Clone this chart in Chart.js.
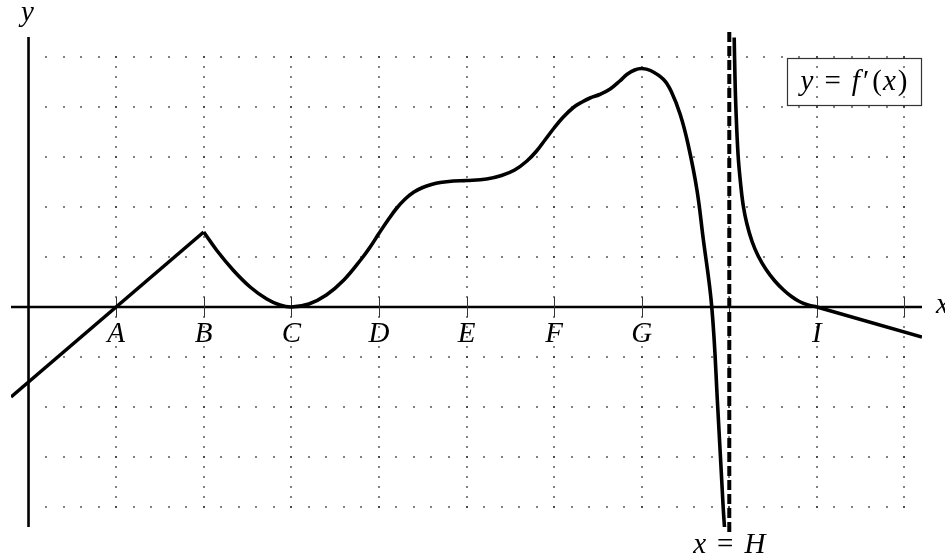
<!DOCTYPE html>
<html>
<head>
<meta charset="utf-8">
<script src="https://cdn.jsdelivr.net/npm/chart.js@4/dist/chart.umd.min.js"></script>
<style>
  html, body { margin: 0; padding: 0; background: #fff; }
  #wrap { width: 945px; height: 556px; position: relative; }
</style>
</head>
<body>
<div id="wrap"><canvas id="derivChart"></canvas></div>
<script>
// x positions of the lettered ticks and their labels
const tickValues = [1, 2, 3, 4, 5, 6, 7, 9];
const tickLabels = ['A', 'B', 'C', 'D', 'E', 'F', 'G', 'I'];
const asymptoteX = 8;

// piece 1: straight line up to B
const leftLineX = [-0.2, 2];
const leftLineY = [-1.8, 1.5];

// piece 2: B -> C -> D -> E -> F -> G -> down towards x = H
const midCurveX = [2, 2.15, 2.34, 2.53, 2.72, 2.87, 3, 3.2, 3.4, 3.6, 3.8, 3.9, 4, 4.1, 4.2, 4.3, 4.4, 4.5, 4.6, 4.7, 4.85,
  5, 5.23, 5.4, 5.55, 5.69, 5.8, 5.9, 6, 6.1, 6.22, 6.32, 6.41, 6.52, 6.64, 6.75, 6.83, 6.92, 7, 7.1, 7.25, 7.34, 7.44, 7.53,
  7.63, 7.7, 7.8, 7.868, 7.93, 7.945];
const midCurveY = [1.5, 1.13, 0.73, 0.4, 0.16, 0.04, 0, 0.06, 0.24, 0.54, 0.96, 1.2, 1.47, 1.73, 1.97, 2.16, 2.3, 2.39, 2.45, 2.49, 2.52,
  2.53, 2.56, 2.63, 2.74, 2.92, 3.12, 3.35, 3.58, 3.79, 3.99, 4.1, 4.18, 4.25, 4.36, 4.52, 4.65, 4.74, 4.77, 4.73, 4.55, 4.3, 3.85, 3.25,
  2.35, 1.4, 0, -2, -4, -4.4];

// piece 3: right of the asymptote down to I
const rightCurveX = [8.056, 8.065, 8.075, 8.1, 8.13, 8.16, 8.2, 8.26, 8.33, 8.42, 8.52, 8.62, 8.71, 8.8, 8.9, 9];
const rightCurveY = [5.39, 4.6, 4.0, 3.05, 2.45, 2.02, 1.67, 1.31, 1.02, 0.75, 0.52, 0.34, 0.21, 0.11, 0.04, 0];

// piece 4: straight line after I
const rightLineX = [9, 10.2];
const rightLineY = [0, -0.6];

// vertical asymptote
const asymX = [asymptoteX, asymptoteX];
const asymY = [-4.5, 5.5];

function pts(xs, ys) {
    return xs.map(function(x, i) { return { x: x, y: ys[i] }; });
}

const serif = '"Liberation Serif", "DejaVu Serif", serif';

// draw a small math string made of [text, italic, extra space after] parts
function drawMath(ctx, parts, x, y, align) {
    let widths = parts.map(function(p) {
        ctx.font = (p[1] ? 'italic ' : '') + '29px ' + serif;
        return ctx.measureText(p[0]).width + (p[2] || 0);
    });
    let total = widths.reduce(function(a, b) { return a + b; }, 0);
    let cx = align === 'center' ? x - total / 2 : x;
    ctx.textAlign = 'left';
    ctx.textBaseline = 'alphabetic';
    parts.forEach(function(p, i) {
        ctx.font = (p[1] ? 'italic ' : '') + '29px ' + serif;
        ctx.fillText(p[0], cx, y);
        cx += widths[i];
    });
}

const gridAxesPlugin = {
    id: 'gridAxes',
    beforeDatasetsDraw: function(chart) {
        const ctx = chart.ctx;
        const xs = chart.scales.x, ys = chart.scales.y;
        ctx.save();
        ctx.fillStyle = '#222';
        // dotted horizontal grid lines
        for (let gy = -4; gy <= 5; gy++) {
            if (gy === 0) continue;
            const py = ys.getPixelForValue(gy);
            for (let k = 1; k <= 50; k++) {
                const px = xs.getPixelForValue(k * 0.2);
                ctx.fillRect(Math.round(px) - 0.75, Math.round(py) - 0.75, 1.5, 1.5);
            }
        }
        // dotted vertical grid lines
        for (let gx = 1; gx <= 10; gx++) {
            const px = xs.getPixelForValue(gx);
            for (let k = -20; k <= 25; k++) {
                const py = ys.getPixelForValue(k * 0.2);
                ctx.fillRect(Math.round(px) - 0.75, Math.round(py) - 0.75, 1.5, 1.5);
            }
        }
        // axes
        ctx.strokeStyle = '#000';
        ctx.lineWidth = 2.6;
        ctx.beginPath();
        ctx.moveTo(xs.getPixelForValue(-0.2), ys.getPixelForValue(0));
        ctx.lineTo(xs.getPixelForValue(10.2), ys.getPixelForValue(0));
        ctx.moveTo(xs.getPixelForValue(0), ys.getPixelForValue(5.4));
        ctx.lineTo(xs.getPixelForValue(0), ys.getPixelForValue(-4.4));
        ctx.stroke();
        // tick marks
        ctx.lineWidth = 1;
        ctx.strokeStyle = '#333';
        ctx.beginPath();
        const y0 = ys.getPixelForValue(0);
        for (let gx = 1; gx <= 10; gx++) {
            const px = Math.round(xs.getPixelForValue(gx)) + 0.5;
            ctx.moveTo(px, y0 - 10);
            ctx.lineTo(px, y0 + 10);
        }
        ctx.stroke();
        ctx.restore();
    },
    afterDraw: function(chart) {
        const ctx = chart.ctx;
        const xs = chart.scales.x, ys = chart.scales.y;
        ctx.save();
        ctx.fillStyle = '#000';
        const y0 = ys.getPixelForValue(0);
        tickValues.forEach(function(v, i) {
            drawMath(ctx, [[tickLabels[i], true]], xs.getPixelForValue(v), y0 + 35, 'center');
        });
        // axis names
        drawMath(ctx, [['y', true]], xs.getPixelForValue(0) - 1, 21, 'center');
        drawMath(ctx, [['x', true]], 936, y0 + 6, 'left');
        // asymptote label
        drawMath(ctx, [['x', true, 11], ['=', false, 11], ['H', true]], xs.getPixelForValue(asymptoteX), 553, 'center');
        // legend box
        ctx.strokeStyle = '#333';
        ctx.lineWidth = 1.2;
        ctx.strokeRect(787.5, 58.5, 134, 47);
        drawMath(ctx, [['y', true, 11], ['=', false, 11], ['f', true, 3], ['\u2032', false, 3], ['(', false, 1], ['x', true, 2], [')', false]], 854, 90, 'center');
        ctx.restore();
    }
};

const lineStyle = {
    showLine: true,
    borderColor: '#000',
    borderWidth: 3.6,
    pointRadius: 0,
    fill: false
};

const ctx = document.getElementById('derivChart').getContext('2d');
const derivChart = new Chart(ctx, {
    type: 'scatter',
    data: {
        datasets: [
            Object.assign({ data: pts(leftLineX, leftLineY), tension: 0 }, lineStyle),
            Object.assign({ data: pts(midCurveX, midCurveY), tension: 0.4 }, lineStyle),
            Object.assign({ data: pts(rightCurveX, rightCurveY), tension: 0.4 }, lineStyle),
            Object.assign({ data: pts(rightLineX, rightLineY), tension: 0 }, lineStyle),
            Object.assign({}, lineStyle, { data: pts(asymX, asymY), borderWidth: 4, borderDash: [10, 4], borderCapStyle: 'butt' })
        ]
    },
    options: {
        responsive: true,
        maintainAspectRatio: false,
        animation: false,
        events: [],
        layout: { padding: { left: 11, right: 23, top: 32, bottom: 24 } },
        plugins: {
            legend: { display: false },
            tooltip: { enabled: false }
        },
        scales: {
            x: { type: 'linear', min: -0.2, max: 10.2, display: false },
            y: { type: 'linear', min: -4.5, max: 5.5, display: false }
        }
    },
    plugins: [gridAxesPlugin]
});
</script>
</body>
</html>
